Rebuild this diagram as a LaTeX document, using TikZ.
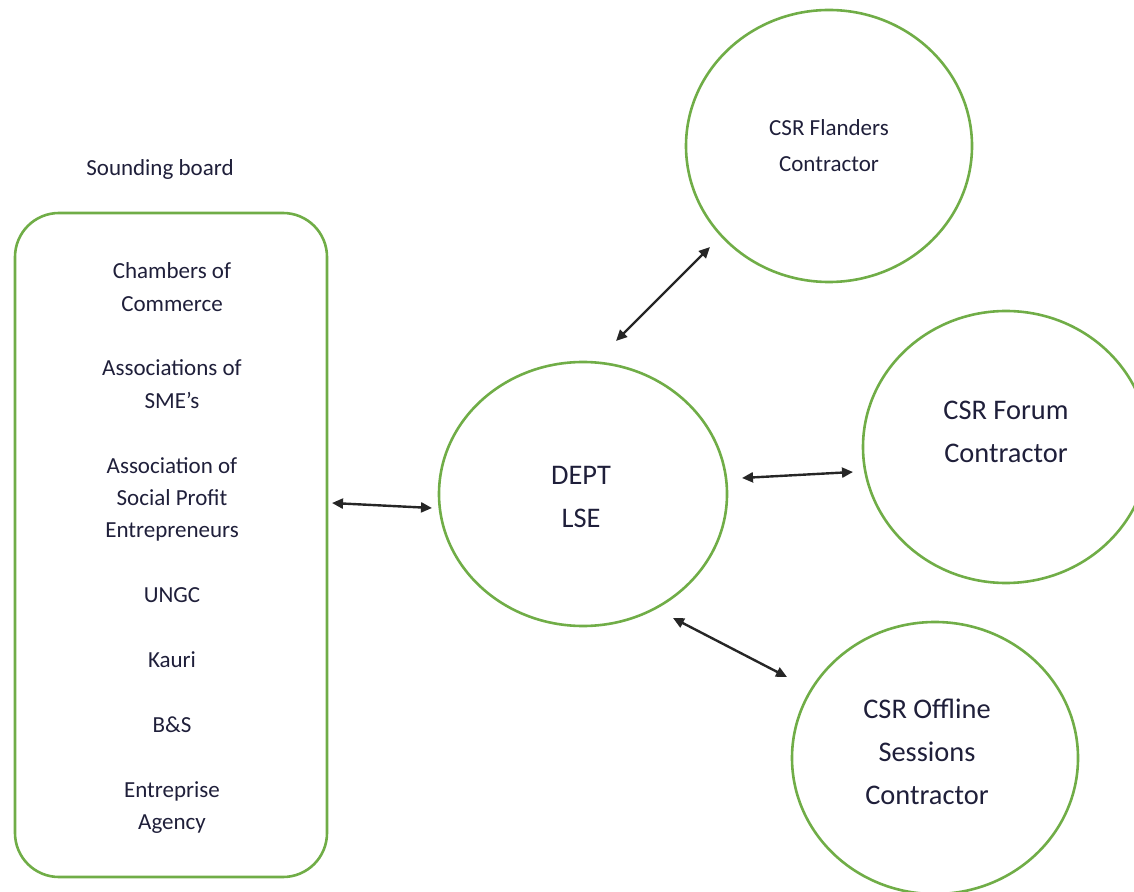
\documentclass[tikz,border=0pt]{standalone}
\usepackage{fontspec}
\setmainfont{Carlito}
\usetikzlibrary{positioning}
\usetikzlibrary{shapes.geometric}
\usetikzlibrary{arrows.meta}
\definecolor{boardgreen}{HTML}{70AD47}
\definecolor{inkblue}{HTML}{1F1F3A}

\tikzset{
 party/.style={ellipse,draw=boardgreen,line width=1.3pt,minimum width=143pt,minimum height=136pt,inner sep=0pt,align=center,text=inkblue},
 words/.style={align=center,text=inkblue,inner sep=0pt},
 smalltext/.style={font=\fontsize{11.5}{18}\selectfont},
 bigtext/.style={font=\fontsize{14.2}{21.5}\selectfont},
 link/.style={{Triangle[length=5.5pt,width=5pt]}-{Triangle[length=5.5pt,width=5pt]},line width=1.2pt,black!85}
}

\begin{document}
\begin{tikzpicture}[x=0.5pt,y=-0.5pt]
 \useasboundingbox (0,0) rectangle (1134,892);
 % sounding board
 \node[text=inkblue,font=\fontsize{11.5}{16}\selectfont] (title) at (160,169) {Sounding board};
 \node[draw=boardgreen,line width=1.3pt,rounded corners=22pt,minimum width=156pt,minimum height=332pt,
       align=center,text=inkblue,font=\fontsize{11.5}{16.2}\selectfont] (board) at (171,545) {};
 \node[words,font=\fontsize{11.5}{16.2}\selectfont] (boardtext) at (172,548)
  {Chambers of\\Commerce\\[16.2pt]Associations of\\SME’s\\[16.2pt]Association of\\Social Profit\\Entrepreneurs\\[16.2pt]UNGC\\[16.2pt]Kauri\\[16.2pt]B\&S\\[16.2pt]Entreprise\\Agency};
 % circles
 \node[party,bigtext,minimum width=144pt,minimum height=132pt] (dept) at (583,494) {};
 \node[words,bigtext] (depttext) at (581,497) {DEPT\\LSE};
 \node[party,smalltext] (flanders) at (829,146) {CSR Flanders\\Contractor};
 \node[party] (forum) at (1006,447) {};
 \node[words,bigtext] (forumtext) at (1006,432) {CSR Forum\\Contractor};
 \node[party] (offline) at (935,758) {};
 \node[words,bigtext] (offlinetext) at (927,752) {CSR Offline\\Sessions\\Contractor};
 % arrow ends
 \coordinate (b1) at (332,503);
 \coordinate (d1) at (432,508);
 \coordinate (d2) at (616,341);
 \coordinate (f2) at (710,247);
 \coordinate (d3) at (742,478);
 \coordinate (f3) at (853,472);
 \coordinate (d4) at (673,618);
 \coordinate (o4) at (787,677);
 \draw[link] (b1) -- (d1);
 \draw[link] (d2) -- (f2);
 \draw[link] (d3) -- (f3);
 \draw[link] (d4) -- (o4);
\end{tikzpicture}
\end{document}
